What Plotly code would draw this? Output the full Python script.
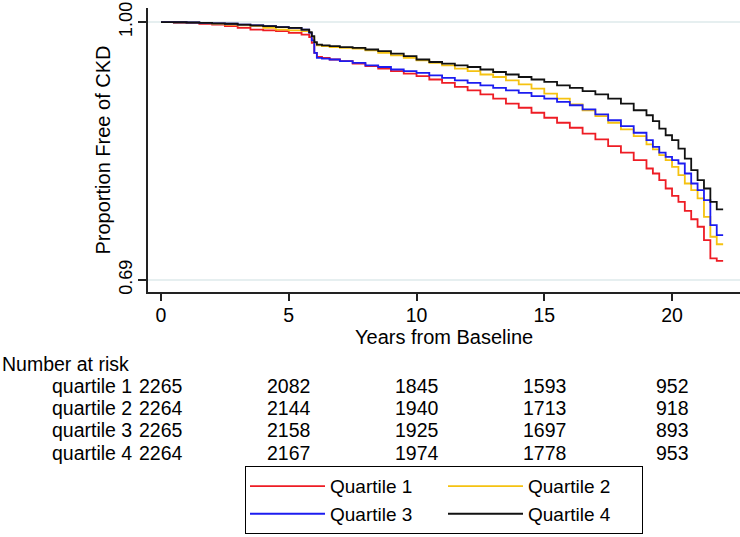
import plotly.graph_objects as go

# ---------------- data ----------------
years = [0, 0.5, 1, 1.5, 2, 2.5, 3, 3.5, 4, 4.5, 5, 5.5,
         5.8, 5.9, 6.0, 6.1, 6.3, 6.6,
         7, 7.5, 8, 8.5, 9, 9.5, 10, 10.5, 11, 11.5, 12, 12.5, 13, 13.5,
         14, 14.5, 15, 15.5, 16, 16.5, 17, 17.5, 18, 18.5, 19,
         19.25, 19.5, 19.75, 20, 20.25, 20.5, 20.75, 21, 21.25, 21.5, 21.75, 22.0]

quartile1 = [1.000, 0.9995, 0.999, 0.998, 0.997, 0.995, 0.993, 0.991, 0.990, 0.989, 0.987, 0.985,
             0.982, 0.975, 0.963, 0.958, 0.957, 0.955,
             0.953, 0.950, 0.947, 0.944, 0.941, 0.938, 0.935, 0.931, 0.927, 0.922, 0.918, 0.913,
             0.908, 0.902, 0.897, 0.891, 0.885, 0.879, 0.873, 0.866, 0.859, 0.851, 0.843, 0.834, 0.824,
             0.818, 0.810, 0.800, 0.791, 0.784, 0.773, 0.763, 0.754, 0.738, 0.716, 0.713, 0.713]

quartile2 = [1.000, 0.9997, 0.9993, 0.999, 0.998, 0.997, 0.996, 0.995, 0.993, 0.991, 0.990, 0.989,
             0.987, 0.982, 0.975, 0.972, 0.971, 0.970,
             0.969, 0.968, 0.966, 0.963, 0.960, 0.957, 0.954, 0.951, 0.948, 0.944, 0.941, 0.937,
             0.934, 0.930, 0.925, 0.920, 0.914, 0.908, 0.901, 0.894, 0.887, 0.879, 0.871, 0.863, 0.853,
             0.847, 0.840, 0.834, 0.826, 0.816, 0.806, 0.798, 0.788, 0.766, 0.742, 0.733, 0.733]

quartile3 = [1.000, 0.9998, 0.9995, 0.999, 0.9985, 0.998, 0.997, 0.996, 0.995, 0.994, 0.993, 0.991,
             0.987, 0.978, 0.963, 0.957, 0.956, 0.955,
             0.953, 0.951, 0.948, 0.946, 0.943, 0.941, 0.939, 0.936, 0.933, 0.930, 0.927, 0.924,
             0.921, 0.918, 0.915, 0.911, 0.908, 0.904, 0.900, 0.895, 0.889, 0.882, 0.875, 0.867, 0.858,
             0.850, 0.843, 0.838, 0.834, 0.830, 0.818, 0.806, 0.798, 0.786, 0.756, 0.744, 0.744]

quartile4 = [1.000, 0.9998, 0.9995, 0.999, 0.9985, 0.998, 0.997, 0.996, 0.995, 0.994, 0.993, 0.991,
             0.988, 0.983, 0.976, 0.973, 0.972, 0.971,
             0.970, 0.969, 0.967, 0.965, 0.962, 0.959, 0.955, 0.952, 0.950, 0.948, 0.946, 0.943,
             0.940, 0.937, 0.934, 0.931, 0.928, 0.924, 0.921, 0.917, 0.913, 0.908, 0.902, 0.894, 0.888,
             0.881, 0.872, 0.864, 0.858, 0.848, 0.836, 0.822, 0.810, 0.800, 0.784, 0.775, 0.775]

series_names = ["Quartile 1", "Quartile 2", "Quartile 3", "Quartile 4"]
series_colors = ["#ee1c24", "#f5c211", "#1c1cf0", "#111111"]
legend_columns = ["left", "right", "left", "right"]

risk_times = [0, 5, 10, 15, 20]
risk_labels = ["quartile 1", "quartile 2", "quartile 3", "quartile 4"]
risk_q1 = [2265, 2082, 1845, 1593, 952]
risk_q2 = [2264, 2144, 1940, 1713, 918]
risk_q3 = [2265, 2158, 1925, 1697, 893]
risk_q4 = [2264, 2167, 1974, 1778, 953]

x_ticks = [0, 5, 10, 15, 20]
y_ticks = [0.69, 1.00]
y_tick_labels = ["0.69", "1.00"]

# ---------------- figure ----------------
FONT = "Liberation Sans, Arial, sans-serif"
FS = 19.5
W, H = 740, 537
ML, MR, MT, MB = 148, 0, 8, 245
plot_w = W - ML - MR
plot_h = H - MT - MB


def py_to_paper(py):
    return (H - MB - py) / plot_h


def px_to_paper(px):
    return (px - ML) / plot_w


fig = go.Figure()
for name, col, grp, vals in zip(series_names, series_colors, legend_columns,
                                [quartile1, quartile2, quartile3, quartile4]):
    fig.add_trace(go.Scatter(x=years, y=vals, mode="lines", name=name, legendgroup=grp,
                             line=dict(color=col, width=1.8, shape="hv")))

ann = []
ann.append(dict(x=0.5, y=py_to_paper(337), xref="paper", yref="paper",
                text="Years from Baseline", showarrow=False, xanchor="center", yanchor="middle",
                font=dict(family=FONT, size=20, color="black")))
ann.append(dict(x=px_to_paper(0), y=py_to_paper(364), xref="paper", yref="paper",
                text="Number at risk", showarrow=False, xanchor="left", yanchor="middle",
                font=dict(family=FONT, size=FS, color="black")))
row_y = [385.5, 407.5, 430, 452.5]
for lab, rv, ry in zip(risk_labels, [risk_q1, risk_q2, risk_q3, risk_q4], row_y):
    ann.append(dict(x=px_to_paper(134), y=py_to_paper(ry), xref="paper", yref="paper",
                    text=lab, showarrow=False, xanchor="right", yanchor="middle",
                    font=dict(family=FONT, size=FS, color="black")))
    for t, v in zip(risk_times, rv):
        ann.append(dict(x=t, y=py_to_paper(ry), xref="x", yref="paper",
                        text=str(v), showarrow=False, xanchor="center", yanchor="middle",
                        font=dict(family=FONT, size=FS, color="black")))

fig.update_layout(
    width=W, height=H,
    margin=dict(l=ML, r=MR, t=MT, b=MB),
    paper_bgcolor="white", plot_bgcolor="white",
    font=dict(family=FONT, size=FS, color="black"),
    showlegend=True,
    legend=dict(orientation="h", x=px_to_paper(245), y=py_to_paper(534),
                xanchor="left", yanchor="bottom",
                bordercolor="black", borderwidth=1.2, bgcolor="white",
                font=dict(family=FONT, size=19, color="black"),
                itemwidth=75, entrywidth=108, entrywidthmode="pixels",
                traceorder="grouped", tracegroupgap=0),
    annotations=ann,
)
fig.update_xaxes(range=[-0.509, 22.66], tickmode="array", tickvals=x_ticks,
                 ticks="outside", ticklen=7, tickwidth=1.5, tickcolor="#222",
                 showline=True, linecolor="#222", linewidth=1.5,
                 showgrid=False, zeroline=False,
                 tickfont=dict(family=FONT, size=FS), ticklabelstandoff=-2)
fig.update_yaxes(range=[0.6756, 1.0169], tickmode="array", tickvals=y_ticks,
                 ticktext=y_tick_labels, tickangle=-90,
                 ticks="outside", ticklen=8, tickwidth=1.5, tickcolor="#222",
                 showline=True, linecolor="#222", linewidth=1.5,
                 showgrid=True, gridcolor="#e6eff0", gridwidth=1.5, zeroline=False,
                 tickfont=dict(family=FONT, size=18), ticklabelstandoff=-1,
                 title=dict(text="Proportion Free of CKD", font=dict(family=FONT, size=20), standoff=0))

fig.write_html("out.html", config={"displayModeBar": False},
               post_script="document.body.style.margin='0px';")
